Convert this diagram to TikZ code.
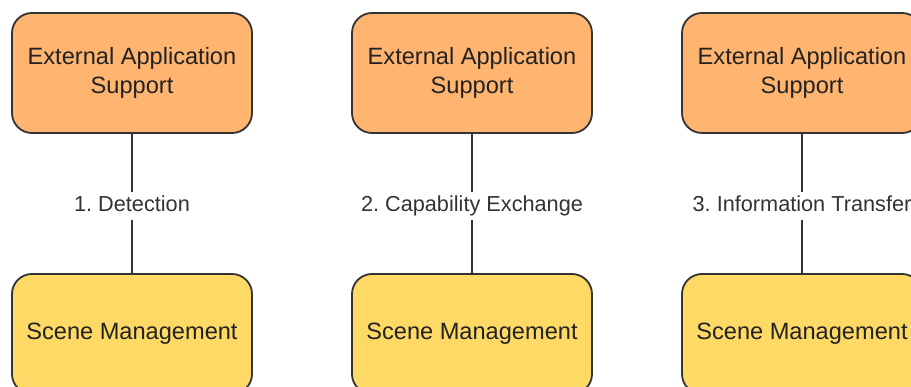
\documentclass[tikz,border=0pt]{standalone}
\usepackage{fontspec}
\setmainfont{Liberation Sans}
\frenchspacing
\definecolor{topfill}{HTML}{FFB570}
\definecolor{botfill}{HTML}{FFD966}
\definecolor{strokec}{HTML}{333333}
\definecolor{txtc}{HTML}{222222}
\definecolor{lblc}{HTML}{333333}
\tikzset{
  box/.style={draw=strokec, line width=1.8pt, rounded corners=20pt,
    minimum width=240pt, minimum height=120pt, align=center, inner sep=0pt,
    text=txtc, font=\fontsize{23.6}{28.5}\selectfont},
  topbox/.style={box, fill=topfill},
  botbox/.style={box, fill=botfill},
  conn/.style={draw=strokec, line width=1.8pt},
  lbl/.style={fill=white, text=lblc, inner xsep=2pt, inner ysep=4pt,
    text height=15.5pt, text depth=4.5pt, yshift=-3pt,
    font=\fontsize{21.7}{26}\selectfont\frenchspacing}
}
\begin{document}
\begin{tikzpicture}[x=1pt,y=-1pt]
\path[use as bounding box, clip] (0,0) rectangle (911,387);
\fill[white] (0,0) rectangle (911,387);
\node[topbox] (t1) at (132,73) {External Application\\Support};
\node[topbox] (t2) at (472,73) {External Application\\Support};
\node[topbox] (t3) at (802,73) {External Application\\Support};
\node[botbox] (b1) at (132,334) {Scene Management};
\node[botbox] (b2) at (472,334) {Scene Management};
\node[botbox] (b3) at (802,334) {Scene Management};
\draw[conn] (t1) -- node[lbl] {1. Detection} (b1);
\draw[conn] (t2) -- node[lbl] {2. Capability Exchange} (b2);
\draw[conn] (t3) -- node[lbl] {3. Information Transfer} (b3);
\end{tikzpicture}
\end{document}
